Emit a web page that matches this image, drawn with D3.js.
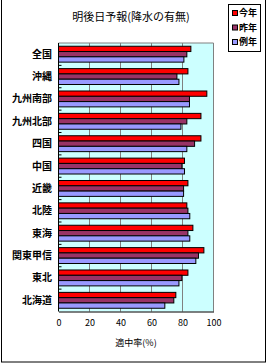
<!DOCTYPE html>
<html lang="ja">
<head>
<meta charset="UTF-8">
<title>明後日予報(降水の有無)</title>
<script src="https://unpkg.com/d3@7/dist/d3.min.js"></script>
<style>
  body { margin: 0; background: #fff; }
  text { font-family: "Noto Sans CJK JP", sans-serif; }
</style>
</head>
<body>
<script>
  var regions = ["全国", "沖縄", "九州南部", "九州北部", "四国", "中国", "近畿", "北陸", "東海", "関東甲信", "東北", "北海道"];
  var seriesNames = ["今年", "昨年", "例年"];
  var thisYear = [85.4, 83.5, 95.7, 91.9, 91.9, 81.3, 83.5, 82.8, 86.7, 93.8, 83.5, 75.7];
  var lastYear = [82.8, 76.4, 84.5, 82.8, 87.8, 79.6, 80.7, 83.5, 83.5, 90.3, 79.6, 74.4];
  var normal   = [80.9, 77.7, 84.5, 79.0, 82.8, 81.3, 80.7, 84.7, 84.7, 88.6, 77.7, 68.6];
  var xTicks = [0, 20, 40, 60, 80, 100];
  var colors = ["#ff0000", "#993366", "#9999ff"];

  var W = 267, H = 364;
  var plot = { left: 58.5, right: 213.5, top: 43, bottom: 311.5 };

  var svg = d3.select("body").append("svg")
      .attr("width", W)
      .attr("height", H);

  // outer frame
  svg.append("rect")
     .attr("x", 1.5).attr("y", -1)
     .attr("width", 264).attr("height", 363)
     .attr("fill", "none").attr("stroke", "#000");

  var x = d3.scaleLinear().domain([0, 100]).range([plot.left, plot.right]);
  var y = d3.scaleBand().domain(regions).range([plot.top, plot.bottom]).paddingInner(0.29).paddingOuter(0.145);
  var yBand = d3.scaleBand().domain(regions).range([plot.top, plot.bottom]);
  var ySub = d3.scaleBand().domain([0, 1, 2]).range([0, y.bandwidth()]);

  // plot background
  svg.append("rect")
     .attr("x", plot.left).attr("y", plot.top)
     .attr("width", plot.right - plot.left).attr("height", plot.bottom - plot.top)
     .attr("fill", "#ccffff");

  // gridlines
  svg.selectAll(".grid")
     .data(xTicks.slice(1))
     .enter().append("line")
     .attr("x1", d => x(d)).attr("x2", d => x(d))
     .attr("y1", plot.top).attr("y2", plot.bottom)
     .attr("stroke", "#808080");
  svg.append("line")
     .attr("x1", plot.left).attr("x2", plot.right)
     .attr("y1", plot.top).attr("y2", plot.top)
     .attr("stroke", "#808080");

  // bars
  var data = [thisYear, lastYear, normal];
  data.forEach(function(vals, s) {
    svg.selectAll(".bar" + s)
       .data(vals)
       .enter().append("rect")
       .attr("x", plot.left)
       .attr("y", (d, i) => y(regions[i]) + ySub(s))
       .attr("width", d => x(d) - plot.left)
       .attr("height", ySub.bandwidth())
       .attr("fill", colors[s])
       .attr("stroke", "#000")
       .attr("stroke-width", 1);
  });

  // x axis
  var xAxis = svg.append("g")
     .attr("transform", "translate(0," + plot.bottom + ")")
     .call(d3.axisBottom(x).tickValues(xTicks).tickSize(0).tickPadding(8));
  xAxis.select(".domain").attr("stroke", "#000");
  xAxis.selectAll("text").attr("font-size", 9).attr("fill", "#000")
       .style("font-family", "'Noto Sans CJK JP', sans-serif");

  // y axis
  svg.append("line")
     .attr("x1", plot.left).attr("x2", plot.left)
     .attr("y1", plot.top).attr("y2", plot.bottom)
     .attr("stroke", "#000");
  svg.selectAll(".ytick")
     .data(regions.slice(1))
     .enter().append("line")
     .attr("x1", plot.left).attr("x2", plot.left + 3)
     .attr("y1", d => yBand(d)).attr("y2", d => yBand(d))
     .attr("stroke", "#000");
  svg.selectAll(".ylab")
     .data(regions)
     .enter().append("text")
     .attr("x", 52)
     .attr("y", d => y(d) + y.bandwidth() / 2)
     .attr("dy", "0.35em")
     .attr("text-anchor", "end")
     .attr("font-size", 10)
     .attr("font-weight", "bold")
     .text(d => d);

  // titles
  svg.append("text")
     .attr("x", 131).attr("y", 21)
     .attr("text-anchor", "middle")
     .attr("font-size", 11)
     .text("明後日予報(降水の有無)");
  svg.append("text")
     .attr("x", 136).attr("y", 346)
     .attr("text-anchor", "middle")
     .attr("font-size", 9)
     .text("適中率(%)");

  // legend
  var legend = svg.append("g");
  legend.append("rect")
     .attr("x", 228.5).attr("y", 4.5)
     .attr("width", 32).attr("height", 47)
     .attr("fill", "#fff").attr("stroke", "#000");
  var ly = d3.scalePoint().domain(seriesNames).range([13, 42]);
  legend.selectAll(".sw")
     .data(seriesNames)
     .enter().append("rect")
     .attr("x", 232.5).attr("y", d => ly(d) - 2.5)
     .attr("width", 5).attr("height", 5)
     .attr("fill", (d, i) => colors[i])
     .attr("stroke", "#000");
  legend.selectAll(".lt")
     .data(seriesNames)
     .enter().append("text")
     .attr("x", 239).attr("y", d => ly(d))
     .attr("dy", "0.35em")
     .attr("font-size", 9)
     .attr("font-weight", "bold")
     .text(d => d);
</script>
</body>
</html>
